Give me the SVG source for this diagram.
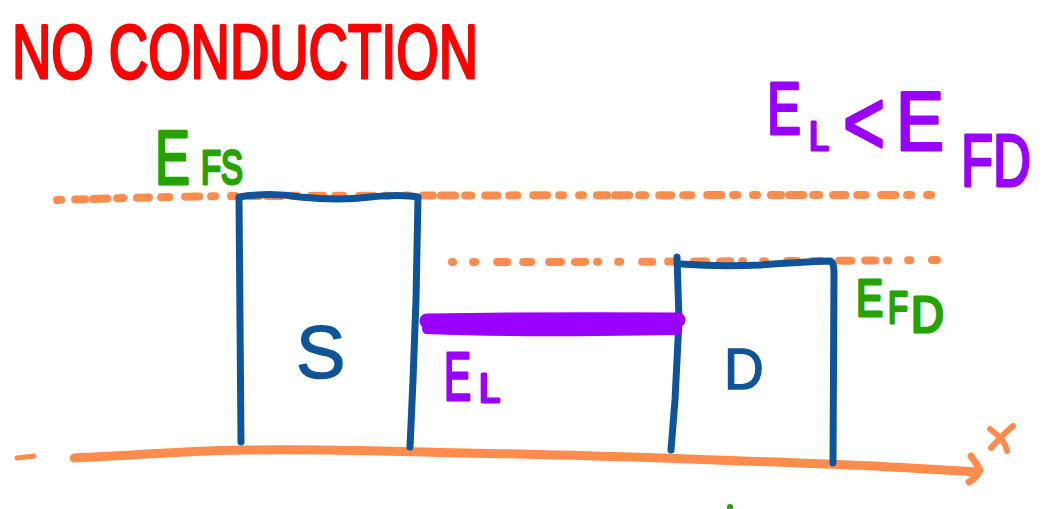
<svg xmlns="http://www.w3.org/2000/svg" width="1055" height="509" viewBox="0 0 1055 509">
  <style>
    .ink { fill: none; stroke-linecap: round; stroke-linejoin: round; }
    .orange { stroke: #ff8c4d; }
    .blue { stroke: #0f5499; stroke-width: 7; }
    .lbl { font-family: "Liberation Sans", "DejaVu Sans", sans-serif; stroke-linejoin: round; stroke-linecap: round; }
    .red { fill: #ff0000; stroke: #ff0000; stroke-width: 3; }
    .green { fill: #25a300; stroke: #25a300; stroke-width: 3; }
    .purple { fill: #9a00ff; stroke: #9a00ff; stroke-width: 3; }
    .bluetxt { fill: #0f5499; stroke: #0f5499; stroke-width: 1.5; }
  </style>

  <rect width="1055" height="509" fill="#ffffff"/>

  <!-- heading -->
  <g id="title">
    <text class="lbl red" x="12" y="78" font-size="76" textLength="466" lengthAdjust="spacingAndGlyphs">NO CONDUCTION</text>
  </g>

  <!-- Fermi levels and position axis -->
  <g id="levels">
    <!-- source Fermi level -->
    <path class="ink orange" stroke-width="8" stroke-dasharray="4 14 10 8 14 10 6 14 12 12 8 16 14 12 4 16" d="M57,200 Q150,197 240,196 Q600,195 943,195"/>
    <!-- drain Fermi level -->
    <path class="ink orange" stroke-width="8" stroke-dasharray="1 20 2 22 10 16 8 18 12 14 10 12" d="M452,262 Q700,262 937,260"/>
    <!-- x axis -->
    <path class="ink orange" stroke-width="5" d="M17,458 L34,456"/>
    <path class="ink orange" stroke-width="9" d="M74,458 C150,455 200,449 260,450 C330,449 400,452 520,454 C650,457 750,461 850,465 C900,467 940,470 976,472"/>
    <path class="ink orange" stroke-width="7" d="M971,456 Q976,463 980,470 Q977,477 969,482"/>
    <path class="ink orange" stroke-width="6" d="M1013,426 Q1000,437 991,448 M990,429 Q999,436 1003,441 Q1006,446 1007,451"/>
  </g>

  <g id="source">
    <path class="ink blue" d="M241,442 L240,320 L239,197 Q270,192 300,197 Q340,201 370,197 Q400,194 418,197 L416,300 L413,380 L410,447"/>
    <text class="lbl bluetxt" x="296" y="378" font-size="74">S</text>
  </g>

  <g id="drain">
    <path class="ink blue" d="M677,257 L679,320 L675,400 L671,450"/>
    <path class="ink blue" d="M681,264 Q720,267 760,265 Q800,262 830,261 Q834,262 834,272 L833,463"/>
    <text class="lbl bluetxt" font-size="58" transform="translate(724,389) scale(0.95,1)">D</text>
  </g>

  <!-- channel level E_L -->
  <g id="channel">
    <path class="ink" stroke="#9a00ff" stroke-width="15" d="M427,321 Q550,319 678,320"/>
    <path class="ink" stroke="#9a00ff" stroke-width="10" d="M427,329 Q500,332 600,331 L677,330"/>
    <text class="lbl purple" font-size="68" transform="translate(444,400) scale(0.6,1)">E</text>
    <text class="lbl purple" font-size="40" transform="translate(479,402) scale(0.95,1)">L</text>
  </g>

  <g id="efs-label">
    <text class="lbl green" font-size="76" transform="translate(155,184) scale(0.69,1)">E</text>
    <text class="lbl green" font-size="48" transform="translate(201,184) scale(0.685,1)">FS</text>
  </g>

  <g id="efd-label">
    <text class="lbl green" font-size="52" transform="translate(856,316) scale(0.78,1)">E</text>
    <text class="lbl green" font-size="44" transform="translate(888,323) scale(0.74,1)">F</text>
    <text class="lbl green" font-size="50" transform="translate(911,332) scale(0.91,1)">D</text>
  </g>

  <!-- E_L < E_FD -->
  <g id="level-relation">
    <text class="lbl purple" font-size="74" transform="translate(767,134) scale(0.69,1)">E</text>
    <text class="lbl purple" font-size="40" transform="translate(809,150) scale(0.9,1)">L</text>
    <text class="lbl purple" font-size="90" transform="translate(843,154) scale(0.8,1)">&lt;</text>
    <text class="lbl purple" font-size="84" transform="translate(896,150) scale(0.857,1)">E</text>
    <text class="lbl purple" font-size="74" transform="translate(961,186) scale(0.71,1)">FD</text>
  </g>

  <circle cx="730" cy="507" r="3" fill="#25a300"/>
</svg>
